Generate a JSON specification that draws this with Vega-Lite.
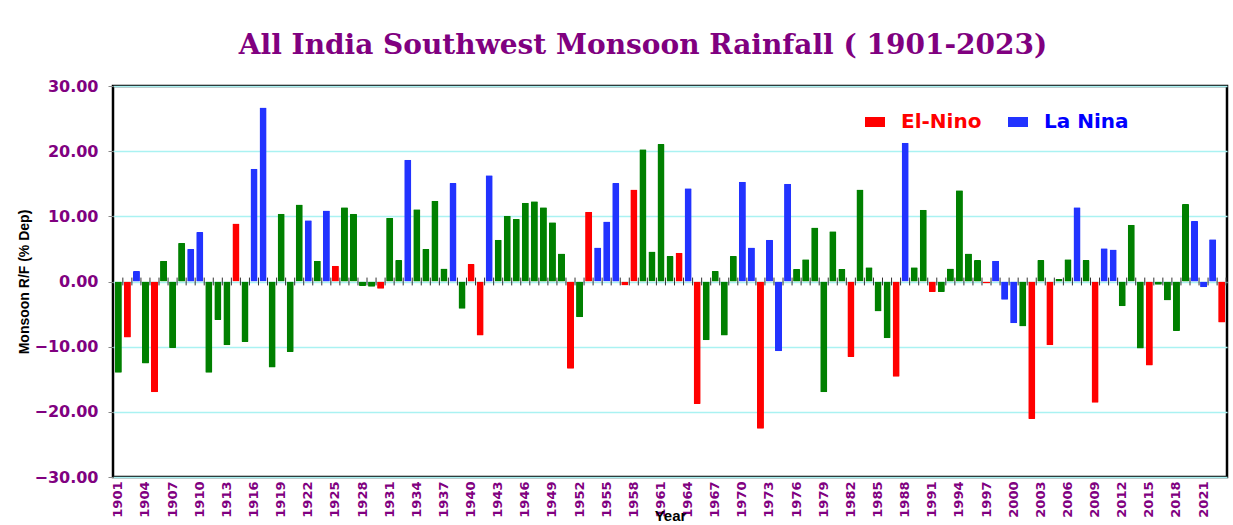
{
  "$schema": "https://vega.github.io/schema/vega-lite/v6.json",
  "width": 1114,
  "height": 391,
  "autosize": {"type": "none"},
  "padding": {"left": 113, "top": 86, "right": 6, "bottom": 48},
  "background": "white",
  "config": {"view": {"stroke": "black", "strokeWidth": 2.5}},
  "title": {
    "text": "All India Southwest Monsoon Rainfall ( 1901-2023)",
    "font": "DejaVu Serif",
    "fontSize": 28,
    "fontWeight": "bold",
    "color": "#800080",
    "anchor": "middle",
    "dx": -27,
    "offset": 18
  },
  "data": {
    "values": [
      {"year": 1901, "dep": -14.0, "phase": "Neutral"},
      {"year": 1902, "dep": -8.6, "phase": "El-Nino"},
      {"year": 1903, "dep": 1.6, "phase": "La Nina"},
      {"year": 1904, "dep": -12.6, "phase": "Neutral"},
      {"year": 1905, "dep": -17.0, "phase": "El-Nino"},
      {"year": 1906, "dep": 3.2, "phase": "Neutral"},
      {"year": 1907, "dep": -10.2, "phase": "Neutral"},
      {"year": 1908, "dep": 5.9, "phase": "Neutral"},
      {"year": 1909, "dep": 5.0, "phase": "La Nina"},
      {"year": 1910, "dep": 7.6, "phase": "La Nina"},
      {"year": 1911, "dep": -14.0, "phase": "Neutral"},
      {"year": 1912, "dep": -5.9, "phase": "Neutral"},
      {"year": 1913, "dep": -9.8, "phase": "Neutral"},
      {"year": 1914, "dep": 8.9, "phase": "El-Nino"},
      {"year": 1915, "dep": -9.3, "phase": "Neutral"},
      {"year": 1916, "dep": 17.3, "phase": "La Nina"},
      {"year": 1917, "dep": 26.7, "phase": "La Nina"},
      {"year": 1918, "dep": -13.2, "phase": "Neutral"},
      {"year": 1919, "dep": 10.4, "phase": "Neutral"},
      {"year": 1920, "dep": -10.8, "phase": "Neutral"},
      {"year": 1921, "dep": 11.8, "phase": "Neutral"},
      {"year": 1922, "dep": 9.4, "phase": "La Nina"},
      {"year": 1923, "dep": 3.2, "phase": "Neutral"},
      {"year": 1924, "dep": 10.9, "phase": "La Nina"},
      {"year": 1925, "dep": 2.4, "phase": "El-Nino"},
      {"year": 1926, "dep": 11.4, "phase": "Neutral"},
      {"year": 1927, "dep": 10.4, "phase": "Neutral"},
      {"year": 1928, "dep": -0.7, "phase": "Neutral"},
      {"year": 1929, "dep": -0.8, "phase": "Neutral"},
      {"year": 1930, "dep": -1.1, "phase": "El-Nino"},
      {"year": 1931, "dep": 9.8, "phase": "Neutral"},
      {"year": 1932, "dep": 3.3, "phase": "Neutral"},
      {"year": 1933, "dep": 18.7, "phase": "La Nina"},
      {"year": 1934, "dep": 11.1, "phase": "Neutral"},
      {"year": 1935, "dep": 5.0, "phase": "Neutral"},
      {"year": 1936, "dep": 12.4, "phase": "Neutral"},
      {"year": 1937, "dep": 2.0, "phase": "Neutral"},
      {"year": 1938, "dep": 15.1, "phase": "La Nina"},
      {"year": 1939, "dep": -4.2, "phase": "Neutral"},
      {"year": 1940, "dep": 2.7, "phase": "El-Nino"},
      {"year": 1941, "dep": -8.3, "phase": "El-Nino"},
      {"year": 1942, "dep": 16.3, "phase": "La Nina"},
      {"year": 1943, "dep": 6.4, "phase": "Neutral"},
      {"year": 1944, "dep": 10.1, "phase": "Neutral"},
      {"year": 1945, "dep": 9.6, "phase": "Neutral"},
      {"year": 1946, "dep": 12.1, "phase": "Neutral"},
      {"year": 1947, "dep": 12.3, "phase": "Neutral"},
      {"year": 1948, "dep": 11.4, "phase": "Neutral"},
      {"year": 1949, "dep": 9.1, "phase": "Neutral"},
      {"year": 1950, "dep": 4.3, "phase": "Neutral"},
      {"year": 1951, "dep": -13.4, "phase": "El-Nino"},
      {"year": 1952, "dep": -5.5, "phase": "Neutral"},
      {"year": 1953, "dep": 10.7, "phase": "El-Nino"},
      {"year": 1954, "dep": 5.2, "phase": "La Nina"},
      {"year": 1955, "dep": 9.2, "phase": "La Nina"},
      {"year": 1956, "dep": 15.1, "phase": "La Nina"},
      {"year": 1957, "dep": -0.6, "phase": "El-Nino"},
      {"year": 1958, "dep": 14.1, "phase": "El-Nino"},
      {"year": 1959, "dep": 20.3, "phase": "Neutral"},
      {"year": 1960, "dep": 4.6, "phase": "Neutral"},
      {"year": 1961, "dep": 21.1, "phase": "Neutral"},
      {"year": 1962, "dep": 3.9, "phase": "Neutral"},
      {"year": 1963, "dep": 4.4, "phase": "El-Nino"},
      {"year": 1964, "dep": 14.3, "phase": "La Nina"},
      {"year": 1965, "dep": -18.8, "phase": "El-Nino"},
      {"year": 1966, "dep": -9.0, "phase": "Neutral"},
      {"year": 1967, "dep": 1.6, "phase": "Neutral"},
      {"year": 1968, "dep": -8.3, "phase": "Neutral"},
      {"year": 1969, "dep": 3.9, "phase": "Neutral"},
      {"year": 1970, "dep": 15.3, "phase": "La Nina"},
      {"year": 1971, "dep": 5.2, "phase": "La Nina"},
      {"year": 1972, "dep": -22.6, "phase": "El-Nino"},
      {"year": 1973, "dep": 6.4, "phase": "La Nina"},
      {"year": 1974, "dep": -10.7, "phase": "La Nina"},
      {"year": 1975, "dep": 15.0, "phase": "La Nina"},
      {"year": 1976, "dep": 1.9, "phase": "Neutral"},
      {"year": 1977, "dep": 3.4, "phase": "Neutral"},
      {"year": 1978, "dep": 8.3, "phase": "Neutral"},
      {"year": 1979, "dep": -17.0, "phase": "Neutral"},
      {"year": 1980, "dep": 7.7, "phase": "Neutral"},
      {"year": 1981, "dep": 1.9, "phase": "Neutral"},
      {"year": 1982, "dep": -11.6, "phase": "El-Nino"},
      {"year": 1983, "dep": 14.1, "phase": "Neutral"},
      {"year": 1984, "dep": 2.2, "phase": "Neutral"},
      {"year": 1985, "dep": -4.6, "phase": "Neutral"},
      {"year": 1986, "dep": -8.7, "phase": "Neutral"},
      {"year": 1987, "dep": -14.6, "phase": "El-Nino"},
      {"year": 1988, "dep": 21.3, "phase": "La Nina"},
      {"year": 1989, "dep": 2.2, "phase": "Neutral"},
      {"year": 1990, "dep": 11.0, "phase": "Neutral"},
      {"year": 1991, "dep": -1.6, "phase": "El-Nino"},
      {"year": 1992, "dep": -1.6, "phase": "Neutral"},
      {"year": 1993, "dep": 2.0, "phase": "Neutral"},
      {"year": 1994, "dep": 14.0, "phase": "Neutral"},
      {"year": 1995, "dep": 4.3, "phase": "Neutral"},
      {"year": 1996, "dep": 3.3, "phase": "Neutral"},
      {"year": 1997, "dep": -0.3, "phase": "El-Nino"},
      {"year": 1998, "dep": 3.2, "phase": "La Nina"},
      {"year": 1999, "dep": -2.8, "phase": "La Nina"},
      {"year": 2000, "dep": -6.4, "phase": "La Nina"},
      {"year": 2001, "dep": -6.9, "phase": "Neutral"},
      {"year": 2002, "dep": -21.1, "phase": "El-Nino"},
      {"year": 2003, "dep": 3.3, "phase": "Neutral"},
      {"year": 2004, "dep": -9.8, "phase": "El-Nino"},
      {"year": 2005, "dep": 0.4, "phase": "Neutral"},
      {"year": 2006, "dep": 3.4, "phase": "Neutral"},
      {"year": 2007, "dep": 11.4, "phase": "La Nina"},
      {"year": 2008, "dep": 3.3, "phase": "Neutral"},
      {"year": 2009, "dep": -18.6, "phase": "El-Nino"},
      {"year": 2010, "dep": 5.1, "phase": "La Nina"},
      {"year": 2011, "dep": 4.9, "phase": "La Nina"},
      {"year": 2012, "dep": -3.8, "phase": "Neutral"},
      {"year": 2013, "dep": 8.7, "phase": "Neutral"},
      {"year": 2014, "dep": -10.3, "phase": "Neutral"},
      {"year": 2015, "dep": -12.9, "phase": "El-Nino"},
      {"year": 2016, "dep": -0.5, "phase": "Neutral"},
      {"year": 2017, "dep": -2.9, "phase": "Neutral"},
      {"year": 2018, "dep": -7.6, "phase": "Neutral"},
      {"year": 2019, "dep": 11.9, "phase": "Neutral"},
      {"year": 2020, "dep": 9.3, "phase": "La Nina"},
      {"year": 2021, "dep": -0.9, "phase": "La Nina"},
      {"year": 2022, "dep": 6.5, "phase": "La Nina"},
      {"year": 2023, "dep": -6.3, "phase": "El-Nino"}
    ]
  },
  "encoding": {
    "x": {
      "field": "year",
      "type": "ordinal",
      "scale": {"paddingInner": 0.22, "paddingOuter": 0.2},
      "axis": {
        "values": [1901,1904,1907,1910,1913,1916,1919,1922,1925,1928,1931,1934,1937,1940,1943,1946,1949,1952,1955,1958,1961,1964,1967,1970,1973,1976,1979,1982,1985,1988,1991,1994,1997,2000,2003,2006,2009,2012,2015,2018,2021],
        "labelAngle": -90,
        "labelColor": "#800080",
        "labelFont": "DejaVu Sans",
        "labelFontWeight": "bold",
        "labelFontSize": 13,
        "labelPadding": 4,
        "ticks": false,
        "domain": false,
        "title": "Year",
        "titleFont": "Liberation Sans",
        "titleFontSize": 15,
        "titleFontWeight": "bold",
        "titleColor": "black",
        "titlePadding": -9
      }
    }
  },
  "layer": [
    {
      "mark": {"type": "bar", "cornerRadius": 1},
      "encoding": {
        "y": {
          "field": "dep",
          "type": "quantitative",
          "scale": {"domain": [-30, 30], "nice": false},
          "axis": {
            "values": [-30, -20, -10, 0, 10, 20, 30],
            "format": ".2f",
            "labelColor": "#800080",
            "labelFont": "DejaVu Sans",
            "labelFontWeight": "bold",
            "labelFontSize": 16,
            "labelPadding": 10,
            "tickColor": "#888888",
            "tickSize": 5,
            "domain": false,
            "grid": true,
            "gridColor": "#aaf2f2",
            "gridWidth": 1.5,
            "title": "Monsoon R/F (% Dep)",
            "titleFont": "Liberation Sans",
            "titleFontSize": 14,
            "titleFontWeight": "bold",
            "titleColor": "black",
            "titlePadding": 2
          }
        },
        "color": {
          "field": "phase",
          "type": "nominal",
          "scale": {"domain": ["El-Nino", "La Nina", "Neutral"], "range": ["#ff0000", "#2233ff", "#008000"]},
          "legend": {
            "orient": "none",
            "legendX": 752,
            "legendY": 26,
            "direction": "horizontal",
            "title": null,
            "values": ["El-Nino", "La Nina"],
            "symbolType": "M-1,-0.5H1V0.5H-1Z",
            "symbolSize": 400,
            "symbolStrokeWidth": 0,
            "labelFont": "DejaVu Sans",
            "labelFontSize": 20,
            "labelFontWeight": "bold",
            "labelOffset": 16,
            "columnPadding": 26,
            "encode": {
              "labels": {"update": {"fill": {"signal": "datum.value === 'El-Nino' ? '#ff0000' : '#0000ff'"}}},
              "symbols": {"update": {"fill": {"signal": "datum.value === 'El-Nino' ? '#ff0000' : '#0000ff'"}, "opacity": {"value": 1}}}
            }
          }
        }
      }
    },
    {
      "mark": {"type": "rule", "color": "black", "strokeWidth": 1.5},
      "encoding": {"y": {"datum": 0}}
    },
    {
      "mark": {"type": "rule", "color": "#333333", "strokeWidth": 1, "xOffset": 4.5},
      "encoding": {"y": {"datum": -0.6}, "y2": {"datum": 0.6}}
    }
  ]
}
